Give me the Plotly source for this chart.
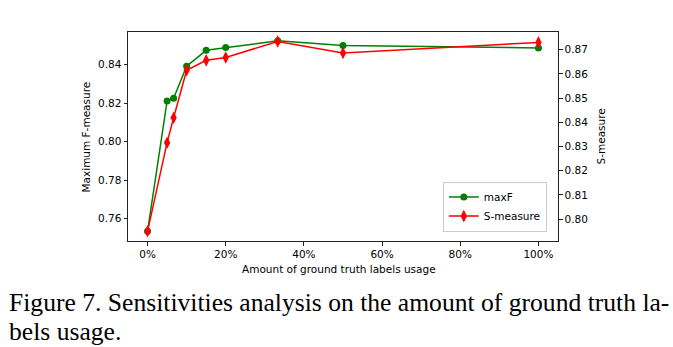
import plotly.graph_objects as go

# Data
usage_pct = [0, 5, 6.67, 10, 15, 20, 33.3, 50, 100]
max_f = [0.7534, 0.8211, 0.8225, 0.8391, 0.8474, 0.8488, 0.8523, 0.8499, 0.8486]
s_measure = [0.7950, 0.8316, 0.8419, 0.8615, 0.8656, 0.8668, 0.8734, 0.8686, 0.8730]

x_ticks = [0, 20, 40, 60, 80, 100]
x_tick_text = ["0%", "20%", "40%", "60%", "80%", "100%"]
y1_ticks = [0.76, 0.78, 0.80, 0.82, 0.84]
y2_ticks = [0.80, 0.81, 0.82, 0.83, 0.84, 0.85, 0.86, 0.87]

FONT = "DejaVu Sans"
TICK_FONT = dict(family=FONT, size=10.5, color="#000000")

fig = go.Figure()
fig.add_trace(go.Scatter(
    x=usage_pct, y=max_f, name="maxF", mode="lines+markers",
    line=dict(color="#008000", width=1.5),
    marker=dict(symbol="circle", size=7, color="#008000"),
    yaxis="y",
))
fig.add_trace(go.Scatter(
    x=usage_pct, y=s_measure, name="S-measure", mode="lines+markers",
    line=dict(color="#ff0000", width=1.5),
    marker=dict(symbol="diamond-tall", size=9, color="#ff0000"),
    yaxis="y2",
))

axis_common = dict(
    showgrid=False, zeroline=False, showline=True, linecolor="#222222", linewidth=1,
    ticks="outside", ticklen=3.5, tickwidth=1, tickcolor="#222222",
    tickfont=TICK_FONT,
)

fig.update_layout(
    width=673, height=347,
    margin=dict(l=128, r=115, t=32, b=106),
    paper_bgcolor="white", plot_bgcolor="white",
    showlegend=True,
    legend=dict(
        x=0.974, y=0.045, xanchor="right", yanchor="bottom",
        bgcolor="white", bordercolor="#cccccc", borderwidth=1,
        font=dict(family=FONT, size=10.5, color="#000000"),
        tracegroupgap=0, itemwidth=30,
    ),
    xaxis=dict(range=[-5, 105], tickvals=x_ticks, ticktext=x_tick_text, mirror=True, **axis_common),
    yaxis=dict(range=[0.7484, 0.8569], tickvals=y1_ticks, tickformat=".2f", **axis_common),
    yaxis2=dict(range=[0.7910, 0.8773], tickvals=y2_ticks, tickformat=".2f",
                overlaying="y", side="right", **axis_common),
    annotations=[
        dict(text="Maximum F-measure", xref="paper", yref="paper", x=-0.0977, y=0.5,
             textangle=-90, showarrow=False, font=dict(family=FONT, size=10.5, color="#000000"),
             xanchor="center", yanchor="middle"),
        dict(text="S-measure", xref="paper", yref="paper", x=1.0977, y=0.5,
             textangle=-90, showarrow=False, font=dict(family=FONT, size=10.5, color="#000000"),
             xanchor="center", yanchor="middle"),
        dict(text="Amount of ground truth labels usage", xref="paper", yref="paper", x=0.49, y=-0.134,
             showarrow=False, font=dict(family=FONT, size=10.5, color="#000000"),
             xanchor="center", yanchor="middle"),
        dict(text="Figure 7. Sensitivities analysis on the amount of ground truth la-",
             xref="paper", yref="paper", x=-0.2814, y=-0.2155, xanchor="left", yanchor="top",
             showarrow=False, font=dict(family="Liberation Serif", size=25.6, color="#000000")),
        dict(text="bels usage.",
             xref="paper", yref="paper", x=-0.2814, y=-0.3524, xanchor="left", yanchor="top",
             showarrow=False, font=dict(family="Liberation Serif", size=25.6, color="#000000")),
    ],
)

fig.write_html("out.html")
